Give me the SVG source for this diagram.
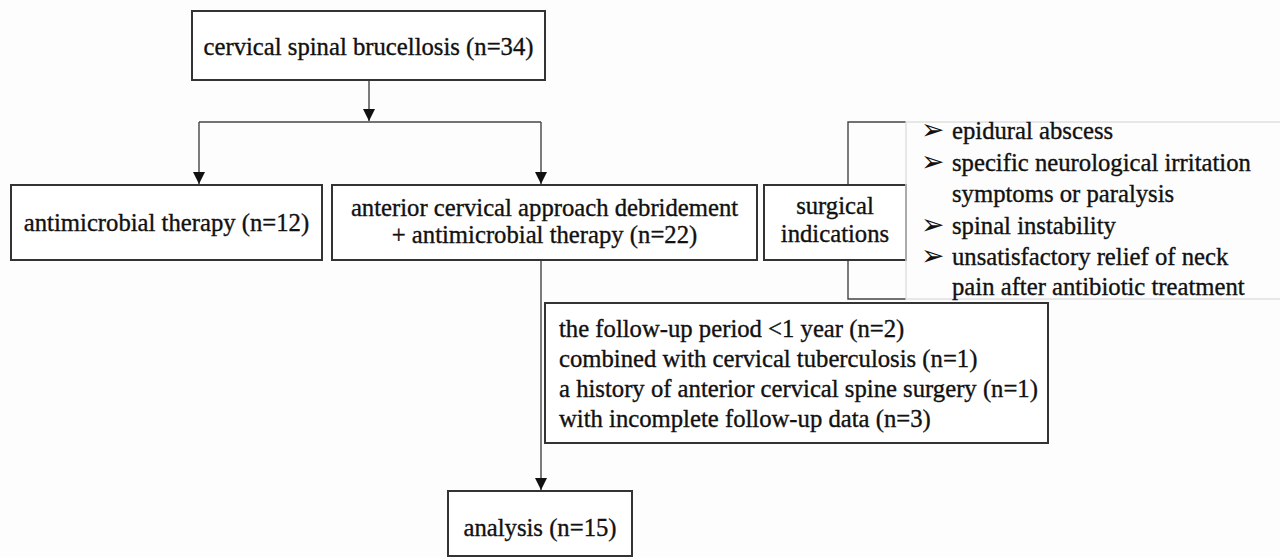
<svg xmlns="http://www.w3.org/2000/svg" width="1280" height="557" viewBox="0 0 1280 557">
<style>
.box{fill:#fff;stroke:#333;stroke-width:2}
.t{font-family:'Liberation Serif','Tinos','Noto Serif','DejaVu Serif',serif;font-size:24.7px;fill:#111;stroke:#111;stroke-width:0.35}
.c{text-anchor:middle}
.ln{fill:none;stroke:#444;stroke-width:1.4}
.lt{fill:none;stroke:#ddd;stroke-width:1.4}
.b{font-family:'DejaVu Sans',sans-serif;font-size:28px;fill:#111}
</style>
<defs>
<marker id="ah" markerUnits="userSpaceOnUse" markerWidth="12" markerHeight="12" viewBox="0 0 12 12" refX="12" refY="6" orient="auto">
<path d="M0,0 L12,6 L0,12 Z" fill="#111"/>
</marker>
</defs>
<rect width="1280" height="557" fill="#fdfdfd"/>
<g id="connectors">
<line class="ln" x1="369" y1="80" x2="369" y2="121" marker-end="url(#ah)"/>
<line class="ln" x1="199" y1="122" x2="541" y2="122"/>
<line class="ln" x1="199" y1="122" x2="199" y2="184" marker-end="url(#ah)"/>
<line class="ln" x1="541" y1="122" x2="541" y2="184" marker-end="url(#ah)"/>
<line class="ln" x1="541" y1="260" x2="541" y2="490" marker-end="url(#ah)"/>
<polyline class="ln" points="906,122 848,122 848,184"/>
<polyline class="ln" points="848,259 848,299 906,299"/>
</g>
<g id="n-top">
<rect class="box" x="192" y="11" width="353" height="69"/>
<text class="t c" x="368.5" y="55">cervical spinal brucellosis (n=34)</text>
</g>
<g id="n-antimicrobial">
<rect class="box" x="11" y="185" width="311" height="75"/>
<text class="t c" x="166.5" y="231">antimicrobial therapy (n=12)</text>
</g>
<g id="n-surgery">
<rect class="box" x="332" y="185" width="425" height="75"/>
<text class="t c" x="544.5" y="216">anterior cervical approach debridement</text>
<text class="t c" x="544.5" y="243">+ antimicrobial therapy (n=22)</text>
</g>
<g id="n-indications">
<rect class="box" x="764" y="185" width="142" height="75"/>
<text class="t c" x="835" y="214">surgical</text>
<text class="t c" x="835" y="242">indications</text>
</g>
<g id="n-criteria">
<rect class="lt" x="906" y="122" width="380" height="177"/>
<text class="b" x="921" y="139">➢</text>
<text class="t" x="952" y="139">epidural abscess</text>
<text class="b" x="921" y="171">➢</text>
<text class="t" x="952" y="171">specific neurological irritation</text>
<text class="t" x="952" y="202">symptoms or paralysis</text>
<text class="b" x="921" y="234">➢</text>
<text class="t" x="952" y="234">spinal instability</text>
<text class="b" x="921" y="265">➢</text>
<text class="t" x="952" y="265">unsatisfactory relief of neck</text>
<text class="t" x="952" y="295">pain after antibiotic treatment</text>
</g>
<g id="n-excluded">
<rect class="box" x="545" y="303" width="503" height="140"/>
<text class="t" x="559" y="337">the follow-up period &lt;1 year (n=2)</text>
<text class="t" x="559" y="367">combined with cervical tuberculosis (n=1)</text>
<text class="t" x="559" y="397">a history of anterior cervical spine surgery (n=1)</text>
<text class="t" x="559" y="427">with incomplete follow-up data (n=3)</text>
</g>
<g id="n-analysis">
<rect class="box" x="448" y="491" width="184" height="65"/>
<text class="t c" x="540" y="536">analysis (n=15)</text>
</g>
</svg>
